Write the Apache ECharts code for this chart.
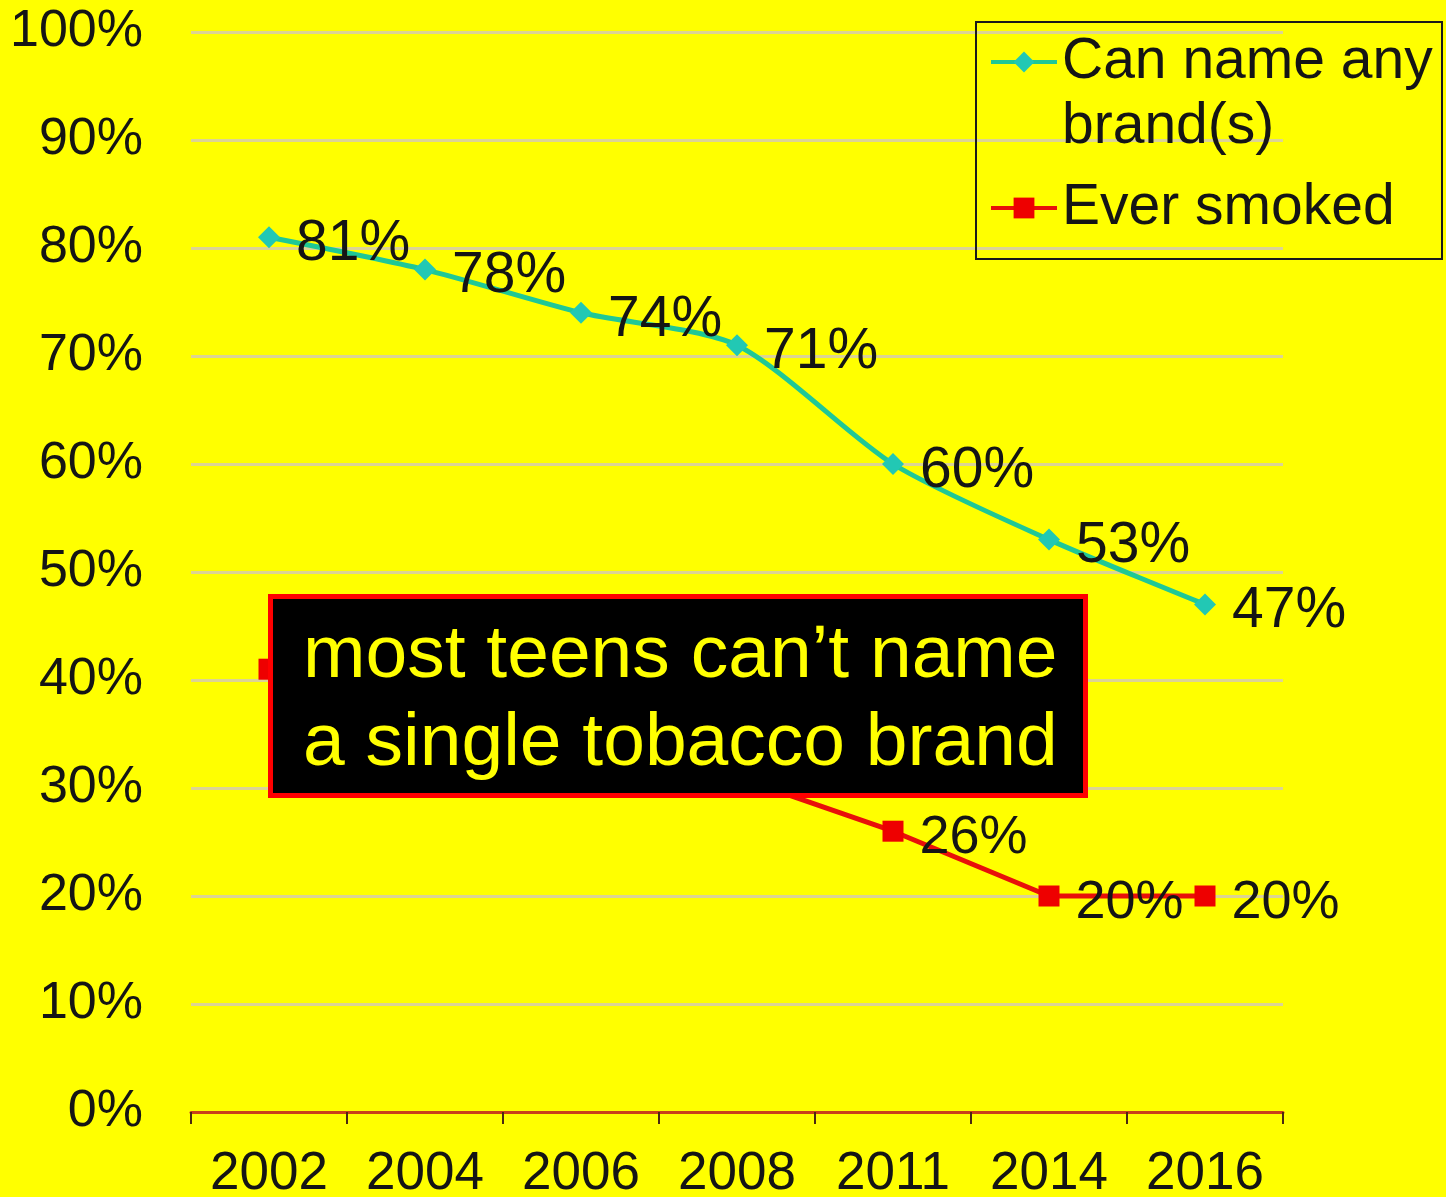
<!DOCTYPE html>
<html>
<head>
<meta charset="utf-8">
<script src="https://cdn.jsdelivr.net/npm/echarts@6/dist/echarts.min.js"></script>
<style>
  html, body { margin: 0; padding: 0; background: #ffff00; }
  #chart { width: 1446px; height: 1197px; }
</style>
</head>
<body>
<div id="chart"></div>
<script>
const categories = ['2002', '2004', '2006', '2008', '2011', '2014', '2016'];
const canNameBrand = [81, 78, 74, 71, 60, 53, 47];
const everSmoked = [41, 37, 34, 31, 26, 20, 20];
const seriesNames = ['Can name any brand(s)', 'Ever smoked'];
const yTicks = [0, 10, 20, 30, 40, 50, 60, 70, 80, 90, 100];
const annotation = 'most teens can\u2019t name\na single tobacco brand';
// Labels of the points hidden behind the annotation box are not shown in the original
const everSmokedLabelVisible = [false, false, false, false, true, true, true];

const FONT = '"Liberation Sans", Arial, Helvetica, sans-serif';
const chart = echarts.init(document.getElementById('chart'), null, { renderer: 'canvas' });

const LH = 65;
const option = {
  backgroundColor: '#ffff00',
  animation: false,
  textStyle: { fontFamily: FONT },
  grid: { left: 191, right: 163, top: 32, bottom: 85, containLabel: false, outerBoundsMode: 'none' },
  legend: {
    orient: 'vertical',
    left: 975,
    top: -35.5,
    padding: [0, 16, 0, 14],
    borderWidth: 0,
    itemWidth: 66,
    itemHeight: 26,
    itemGap: 16,
    lineStyle: { width: 4 },
    textStyle: { fontSize: 57, color: '#151515', fontFamily: FONT, lineHeight: LH },
    data: [
      { name: seriesNames[0] },
      { name: seriesNames[1] }
    ],
    formatter: function (n) { return n === seriesNames[0] ? ' \nCan name any\nbrand(s)' : n; }
  },
  xAxis: {
    type: 'category',
    data: categories,
    boundaryGap: true,
    axisLine: { show: true, lineStyle: { color: '#c8401a', width: 3 } },
    axisTick: { show: true, length: 12, lineStyle: { color: '#4a2a10', width: 2 } },
    axisLabel: { fontSize: 53, color: '#151515', margin: 36, fontFamily: FONT },
    splitLine: { show: false }
  },
  yAxis: {
    type: 'value',
    min: 0,
    max: 100,
    interval: 10,
    axisLine: { show: false },
    axisTick: { show: false },
    axisLabel: { fontSize: 52, color: '#151515', margin: 48, fontFamily: FONT, formatter: '{value}%' },
    splitLine: { show: true, lineStyle: { color: '#dcd394', width: 3 } }
  },
  series: [
    {
      name: seriesNames[0],
      type: 'line',
      data: canNameBrand,
      smooth: 0.25,
      symbol: 'diamond',
      symbolSize: 22,
      itemStyle: { color: '#22c8b4' },
      lineStyle: { color: '#1fc896', width: 5 },
      label: {
        show: true,
        position: 'right',
        distance: 16,
        offset: [0, 7],
        fontSize: 57,
        color: '#151515',
        fontFamily: FONT,
        formatter: '{c}%'
      },
      z: 3
    },
    {
      name: seriesNames[1],
      type: 'line',
      data: everSmoked.map(function (v, i) {
        return { value: v, label: { show: everSmokedLabelVisible[i] } };
      }),
      smooth: false,
      symbol: 'rect',
      symbolSize: 21,
      itemStyle: { color: '#ee0000' },
      lineStyle: { color: '#e8100a', width: 5 },
      label: {
        show: true,
        position: 'right',
        distance: 16,
        offset: [0, 7],
        fontSize: 54,
        color: '#151515',
        fontFamily: FONT,
        formatter: '{c}%'
      },
      z: 2
    }
  ],
  graphic: [
    {
      type: 'rect',
      z: 50,
      shape: { x: 976, y: 22, width: 466, height: 237 },
      style: { fill: null, stroke: '#1a1a1a', lineWidth: 2 }
    },
    {
      type: 'group',
      z: 100,
      children: [
        {
          type: 'rect',
          z: 100,
          shape: { x: 270.5, y: 596.5, width: 815, height: 199 },
          style: { fill: '#000000', stroke: '#ff0000', lineWidth: 5 }
        },
        {
          type: 'text',
          z: 101,
          x: 303,
          y: 700,
          style: {
            text: annotation,
            fill: '#ffff00',
            fontSize: 75,
            lineHeight: 88,
            fontFamily: FONT,
            align: 'left',
            verticalAlign: 'middle'
          }
        }
      ]
    }
  ]
};

chart.setOption(option);
</script>
</body>
</html>
